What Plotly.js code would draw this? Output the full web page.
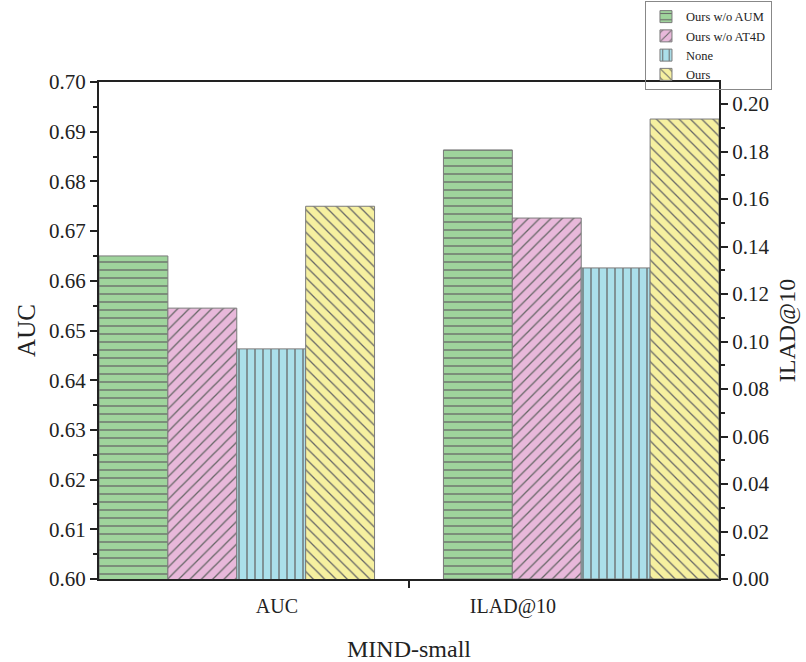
<!DOCTYPE html>
<html>
<head>
<meta charset="utf-8">
<script src="https://cdn.plot.ly/plotly-3.0.1.min.js"></script>
<style>html,body{margin:0;padding:0;background:#fff;}#chart{width:806px;height:662px;}</style>
</head>
<body>
<div id="chart"></div>
<script>
const categories = ['AUC', 'ILAD@10'];
const seriesNames = ['Ours w/o AUM', 'Ours w/o AT4D', 'None', 'Ours'];
const aucValues = [0.665, 0.6545, 0.6463, 0.675];
const iladValues = [0.1807, 0.152, 0.131, 0.1937];
const fillColors = ['#9fd49c', '#e8b8da', '#abdfea', '#f6f0a0'];
const patterns = ['-', '/', '|', '\\'];

const FONT = 'Liberation Serif, Times New Roman, serif';
const traces = [];
seriesNames.forEach((name, i) => {
  const marker = {
    color: fillColors[i],
    line: {color: '#7a7a7a', width: 1},
    pattern: {shape: patterns[i], fgcolor: '#666666', bgcolor: fillColors[i],
              fillmode: 'replace', size: 8, solidity: 0.16}
  };
  traces.push({
    type: 'bar', name: name, x: [categories[0]], y: [aucValues[i]],
    xaxis: 'x', yaxis: 'y', marker: marker, offsetgroup: 'g' + i,
    legendgroup: 'g' + i, showlegend: true
  });
  traces.push({
    type: 'bar', name: name, x: [categories[1]], y: [iladValues[i]],
    xaxis: 'x', yaxis: 'y2', marker: marker, offsetgroup: 'g' + i,
    legendgroup: 'g' + i, showlegend: false
  });
});
// label carrier for the category tick labels
traces.push({type: 'scatter', mode: 'none', x: categories, y: [null, null],
  xaxis: 'x2', yaxis: 'y', showlegend: false, hoverinfo: 'skip'});

const layout = {
  width: 806, height: 662,
  margin: {l: 99, r: 87, t: 82, b: 83, autoexpand: false},
  paper_bgcolor: '#fff', plot_bgcolor: '#fff',
  font: {family: FONT, color: '#222'},
  barmode: 'group', bargap: 0.2, bargroupgap: 0,
  showlegend: true,
  legend: {
    x: 0.8806, y: 1.163, xanchor: 'left', yanchor: 'top',
    bordercolor: '#888', borderwidth: 1, bgcolor: 'rgba(255,255,255,0)',
    font: {family: FONT, size: 12.5, color: '#222'},
    tracegroupgap: 0, itemwidth: 30
  },
  xaxis: {
    type: 'category', categoryorder: 'array', categoryarray: categories,
    range: [-0.4, 1.4], tickson: 'boundaries', ticks: 'outside', ticklen: 7,
    tickwidth: 2, tickcolor: '#222', showticklabels: false,
    showline: true, linecolor: '#222', linewidth: 2, mirror: true,
    showgrid: false, zeroline: false,
    title: {text: 'MIND-small', font: {family: FONT, size: 24, color: '#222'}, standoff: 61}
  },
  xaxis2: {
    type: 'category', categoryorder: 'array', categoryarray: categories,
    overlaying: 'x', side: 'bottom', anchor: 'y',
    range: [-0.754, 1.873], ticks: '', showline: false, showgrid: false,
    zeroline: false, ticklabelstandoff: 13,
    tickfont: {family: FONT, size: 20, color: '#222'}
  },
  yaxis: {
    range: [0.6, 0.7], dtick: 0.01, tickformat: '.2f',
    ticks: 'outside', ticklen: 7, tickwidth: 2, tickcolor: '#222',
    minor: {ticks: 'outside', dtick: 0.005, ticklen: 4, tickwidth: 2, tickcolor: '#222'},
    showline: true, linecolor: '#222', linewidth: 2, mirror: false,
    showgrid: false, zeroline: false,
    tickfont: {family: FONT, size: 21, color: '#222'},
    title: {text: 'AUC', font: {family: FONT, size: 25, color: '#222'}, standoff: 6}
  },
  yaxis2: {
    overlaying: 'y', side: 'right', anchor: 'x',
    range: [0, 0.2093], dtick: 0.02, tickformat: '.2f',
    ticks: 'outside', ticklen: 7, tickwidth: 2, tickcolor: '#222',
    minor: {ticks: 'outside', dtick: 0.01, ticklen: 4, tickwidth: 2, tickcolor: '#222'},
    showline: true, linecolor: '#222', linewidth: 2,
    showgrid: false, zeroline: false,
    tickfont: {family: FONT, size: 21, color: '#222'},
    title: {text: 'ILAD@10', font: {family: FONT, size: 24, color: '#222'}, standoff: 10}
  }
};

Plotly.newPlot('chart', traces, layout, {displayModeBar: false, staticPlot: true});
</script>
</body>
</html>
